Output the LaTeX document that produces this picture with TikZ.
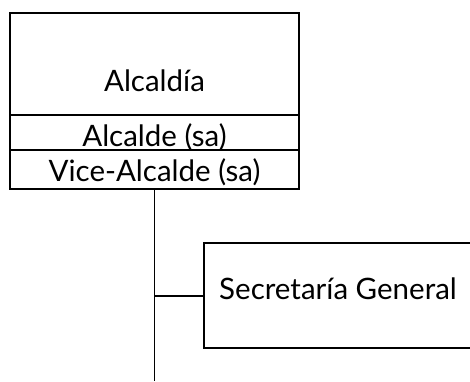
\documentclass[tikz,border=0pt]{standalone}
\usepackage{fontspec}
\setmainfont{Lato}
\usetikzlibrary{positioning}

\begin{document}
\begin{tikzpicture}[x=1pt, y=1pt,
        node distance=0pt,
        cabecera/.style={rectangle, draw=black, line width=2pt, outer sep=0pt, inner sep=0pt, minimum width=289pt, minimum height=102pt, text height=54pt, text depth=0pt, font=\fontsize{29.5}{34}\selectfont},
        fila/.style={rectangle, draw=black, line width=2pt, outer sep=0pt, inner sep=0pt, minimum width=289pt, text depth=0pt, font=\fontsize{29.5}{34}\selectfont},
        caja/.style={rectangle, draw=black, line width=2.2pt, outer sep=0pt, inner sep=0pt, minimum width=268pt, minimum height=105pt, text height=19pt, text depth=12pt, font=\fontsize{29.5}{34}\selectfont},
        tronco/.style={draw=black, line width=1pt},
        rama/.style={draw=black, line width=2pt}
    ]
    \useasboundingbox (0,0) rectangle (470,381);
    \clip (0,0) rectangle (470,381);

    % Alcaldia
    \node[cabecera] (alcaldia) at (154.5,317) {Alcaldía};
    \node[fila, minimum height=35pt, text height=27pt, below=of alcaldia] (alcalde) {Alcalde (sa)};
    \node[fila, minimum height=39pt, text height=24.4pt, below=of alcalde] (vice) {Vice-Alcalde (sa)};

    % Dependencias
    \node[caja] (secretaria) at (338,85.5) {Secretaría General};

    % Lineas
    \coordinate (pie) at (154.5,0);
    \draw[tronco] (vice.south) -- (pie);
    \draw[rama] (vice.south |- secretaria.west) -- (secretaria.west);

\end{tikzpicture}
\end{document}
